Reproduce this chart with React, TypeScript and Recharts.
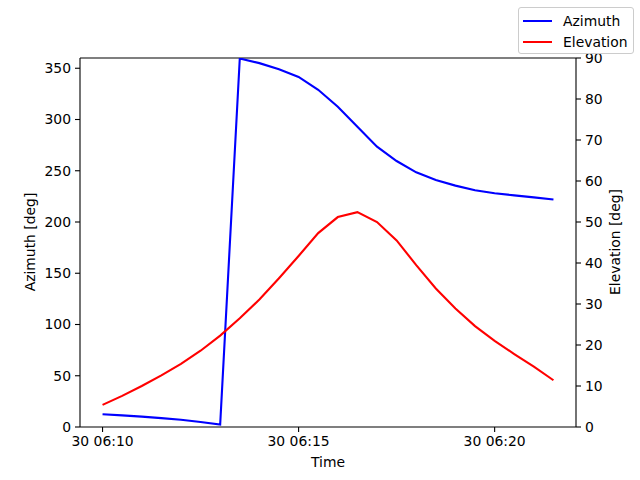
import React from 'react';
import { LineChart, Line, XAxis, YAxis, ReferenceLine, Legend } from 'recharts';

// Seconds since 30 06:10:00
const times = [0, 30, 60, 90, 120, 150, 180, 210, 240, 270, 300, 330, 360, 390, 420, 450, 480, 510, 540, 570, 600, 630, 660, 690];
const azimuth = [12.4, 11.3, 10.1, 8.7, 7.0, 4.9, 2.3, 359.5, 355, 349, 341.5, 329, 312.5, 293, 273.5, 259.5, 248.5, 241, 235.5, 231, 228, 226, 224, 222];
const elevation = [5.4, 7.6, 10.0, 12.6, 15.4, 18.6, 22.3, 26.5, 31.1, 36.3, 41.7, 47.3, 51.2, 52.4, 50.0, 45.5, 39.5, 33.8, 28.9, 24.6, 21.0, 17.8, 14.7, 11.4];

const xTicks = [0, 300, 600];
const xTickLabels = ['30 06:10', '30 06:15', '30 06:20'];
const azTicks = [0, 50, 100, 150, 200, 250, 300, 350];
const elTicks = [0, 10, 20, 30, 40, 50, 60, 70, 80, 90];

const data = times.map((t, i) => ({ t, az: azimuth[i], el: elevation[i] }));

const FONT = 'DejaVu Sans, sans-serif';
const FS = 13.9;
const tickStyle = { fill: '#000', fontSize: FS, fontFamily: FONT };

const LegendBox = () => (
  <div
    style={{
      boxSizing: 'border-box',
      width: 116,
      height: 47,
      border: '1px solid #cccccc',
      borderRadius: 3,
      background: 'rgba(255,255,255,0.8)',
      fontFamily: FONT,
      fontSize: FS,
      color: '#000',
      position: 'relative',
    }}
  >
    {[
      { name: 'Azimuth', color: '#0000ff' },
      { name: 'Elevation', color: '#ff0000' },
    ].map((it, i) => (
      <div key={it.name} style={{ position: 'absolute', left: 4, top: 3 + i * 21, height: 20, display: 'flex', alignItems: 'center' }}>
        <div style={{ width: 29, height: 2, background: it.color }} />
        <span style={{ marginLeft: 11, lineHeight: '20px' }}>{it.name}</span>
      </div>
    ))}
  </div>
);

export default function App() {
  return (
    <div style={{ position: 'absolute', left: 0, top: 0, width: 640, height: 480, background: '#fff' }}>
      <LineChart width={640} height={480} data={data} margin={{ top: 58, right: 0, bottom: 0, left: 0 }}>
        <XAxis
          dataKey="t"
          type="number"
          domain={[-34.5, 724.5]}
          ticks={xTicks}
          tickFormatter={(v: number) => xTickLabels[xTicks.indexOf(v)] ?? ''}
          height={53}
          tick={tickStyle}
          tickSize={5}
          tickMargin={4}
          axisLine={{ stroke: '#000', strokeWidth: 1.1 }}
          tickLine={{ stroke: '#000', strokeWidth: 1.1 }}
          allowDataOverflow
          label={{
            position: 'center',
            content: () => (
              <text x={328} y={462} textAnchor="middle" dominantBaseline="central" fill="#000" fontSize={FS} fontFamily={FONT}>
                Time
              </text>
            ),
          }}
        />
        <YAxis
          yAxisId="left"
          orientation="left"
          domain={[0, 360]}
          ticks={azTicks}
          width={80}
          tick={tickStyle}
          tickSize={5}
          tickMargin={4}
          axisLine={{ stroke: '#000', strokeWidth: 1.1 }}
          tickLine={{ stroke: '#000', strokeWidth: 1.1 }}
          allowDataOverflow
          label={{
            position: 'center',
            content: () => (
              <text
                x={30}
                y={242}
                transform="rotate(-90 30 242)"
                textAnchor="middle"
                dominantBaseline="central"
                fill="#000"
                fontSize={FS}
                fontFamily={FONT}
              >
                Azimuth [deg]
              </text>
            ),
          }}
        />
        <YAxis
          yAxisId="right"
          orientation="right"
          domain={[0, 90]}
          ticks={elTicks}
          width={64}
          tick={tickStyle}
          tickSize={5}
          tickMargin={4}
          axisLine={{ stroke: '#000', strokeWidth: 1.1 }}
          tickLine={{ stroke: '#000', strokeWidth: 1.1 }}
          allowDataOverflow
          label={{
            position: 'center',
            content: () => (
              <text
                x={615}
                y={242}
                transform="rotate(-90 615 242)"
                textAnchor="middle"
                dominantBaseline="central"
                fill="#000"
                fontSize={FS}
                fontFamily={FONT}
              >
                Elevation [deg]
              </text>
            ),
          }}
        />
        <ReferenceLine yAxisId="left" y={360} stroke="#000" strokeWidth={1.1} />
        <Line
          yAxisId="left"
          dataKey="az"
          name="Azimuth"
          stroke="#0000ff"
          strokeWidth={2.1}
          dot={false}
          type="linear"
          isAnimationActive={false}
        />
        <Line
          yAxisId="right"
          dataKey="el"
          name="Elevation"
          stroke="#ff0000"
          strokeWidth={2.1}
          dot={false}
          type="linear"
          isAnimationActive={false}
        />
        <Legend
          layout="vertical"
          align="center"
          verticalAlign="middle"
          wrapperStyle={{ left: 518, top: 7, width: 116, height: 47 }}
          content={() => <LegendBox />}
        />
      </LineChart>
    </div>
  );
}
